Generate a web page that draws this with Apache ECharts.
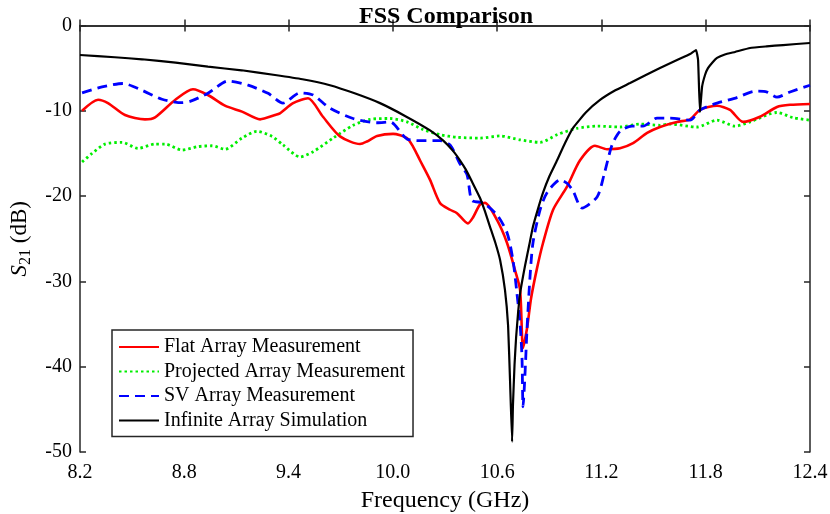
<!DOCTYPE html>
<html>
<head>
<meta charset="utf-8">
<script src="https://cdn.jsdelivr.net/npm/echarts@6/dist/echarts.min.js"></script>
<style>html,body{margin:0;padding:0;background:#fff;}#c{width:830px;height:514px;}</style>
</head>
<body>
<div id="c"></div>
<script>
// ---- Data (frequency in GHz, S21 in dB) ----
var xTickValues = [8.2, 8.8, 9.4, 10.0, 10.6, 11.2, 11.8, 12.4];
var yTickValues = [0, -10, -20, -30, -40, -50];

var flatFreq = [8.212,8.304,8.361,8.459,8.574,8.632,8.747,8.850,8.936,9.034,9.132,9.236,9.322,9.350,9.426,9.512,9.598,9.696,9.811,9.851,9.909,10.001,10.081,10.116,10.156,10.214,10.271,10.329,10.369,10.432,10.461,10.501,10.530,10.599,10.657,10.703,10.732,10.749,10.772,10.795,10.829,10.864,10.922,11.002,11.077,11.163,11.232,11.307,11.382,11.463,11.537,11.635,11.710,11.767,11.865,11.940,12.015,12.112,12.210,12.285,12.400];
var flatS21 = [-10.0,-8.7,-9.1,-10.5,-11.0,-10.76,-8.73,-7.48,-8.15,-9.4,-10.1,-11.0,-10.5,-10.3,-9.1,-8.53,-10.7,-13.0,-13.9,-13.6,-12.95,-12.7,-13.2,-14.2,-15.8,-18.1,-20.8,-21.6,-22.0,-23.2,-22.5,-21.0,-20.8,-22.8,-25.5,-28.7,-31.0,-37.8,-35.5,-32.0,-28.5,-25.5,-21.6,-18.9,-15.8,-14.1,-14.5,-14.4,-13.8,-12.6,-11.9,-11.3,-11.0,-9.9,-9.4,-9.9,-11.3,-10.7,-9.55,-9.3,-9.2];

var projFreq = [8.212,8.269,8.344,8.442,8.534,8.632,8.689,8.787,8.879,8.959,9.034,9.132,9.218,9.305,9.368,9.466,9.541,9.656,9.771,9.869,9.984,10.081,10.174,10.271,10.369,10.501,10.617,10.732,10.847,10.945,11.060,11.175,11.307,11.422,11.537,11.595,11.750,11.865,11.969,12.055,12.210,12.302,12.400];
var projS21 = [-16.0,-15.0,-13.9,-13.7,-14.4,-13.9,-13.9,-14.6,-14.2,-14.1,-14.5,-13.2,-12.4,-13.0,-14.0,-15.4,-14.8,-13.2,-11.7,-11.0,-10.9,-11.3,-12.2,-12.8,-13.1,-13.2,-12.95,-13.4,-13.7,-12.8,-12.05,-11.8,-11.9,-11.55,-11.7,-11.55,-11.9,-11.1,-11.8,-11.3,-10.2,-10.8,-11.1];

var svFreq = [8.212,8.327,8.447,8.557,8.672,8.787,8.833,8.936,9.052,9.167,9.282,9.368,9.466,9.541,9.638,9.771,9.909,9.984,10.081,10.174,10.271,10.329,10.386,10.427,10.455,10.519,10.599,10.657,10.691,10.714,10.732,10.743,10.749,10.760,10.772,10.789,10.806,10.847,10.887,10.962,11.002,11.037,11.088,11.175,11.215,11.261,11.307,11.376,11.439,11.520,11.595,11.710,11.767,11.865,11.980,12.084,12.153,12.210,12.285,12.400];
var svS21 = [-7.9,-7.2,-6.8,-7.6,-8.65,-9.05,-8.9,-7.95,-6.5,-7.0,-7.95,-9.1,-7.9,-8.15,-9.7,-10.9,-11.4,-11.3,-13.3,-13.5,-13.5,-14.0,-16.2,-17.5,-20.5,-20.8,-22.2,-24.3,-27.5,-31.4,-35.0,-38.9,-44.7,-41.0,-35.5,-29.5,-25.5,-21.6,-19.6,-18.1,-18.5,-19.4,-21.4,-20.1,-17.5,-14.0,-12.4,-11.8,-11.8,-10.85,-10.85,-11.1,-9.9,-9.1,-8.45,-7.7,-7.8,-8.4,-7.8,-7.0];

var simFreq = [8.200,8.400,8.557,8.750,8.936,9.130,9.322,9.480,9.638,9.780,9.926,10.070,10.214,10.290,10.346,10.386,10.420,10.455,10.501,10.530,10.559,10.590,10.617,10.645,10.663,10.674,10.686,10.691,10.700,10.709,10.720,10.732,10.761,10.785,10.806,10.835,10.864,10.900,10.945,10.990,11.037,11.110,11.192,11.280,11.365,11.450,11.537,11.635,11.710,11.744,11.756,11.767,11.779,11.796,11.813,11.840,11.865,11.910,11.969,12.055,12.150,12.245,12.400];
var simS21 = [-3.46,-3.72,-3.96,-4.35,-4.83,-5.25,-5.80,-6.30,-7.00,-7.95,-9.10,-10.6,-12.3,-13.5,-14.7,-15.8,-16.9,-18.3,-20.2,-21.8,-23.6,-25.5,-27.5,-31.0,-35.2,-41.5,-48.8,-44.5,-39.8,-36.6,-33.8,-31.4,-28.1,-25.7,-23.6,-21.5,-19.6,-17.7,-15.8,-13.8,-12.0,-10.2,-8.73,-7.6,-6.74,-5.85,-4.98,-4.04,-3.34,-2.87,-4.04,-10.14,-7.2,-5.8,-5.0,-4.3,-3.8,-3.4,-3.1,-2.64,-2.45,-2.29,-2.05];

function pairs(xs, ys) { return xs.map(function (x, i) { return [x, ys[i]]; }); }

var FONT = 'Liberation Serif';
var AX = '#262626';

var chart = echarts.init(document.getElementById('c'), null, { renderer: 'canvas' });
chart.setOption({
  animation: false,
  backgroundColor: '#fff',
  title: {
    text: 'FSS Comparison',
    left: 441, top: 0, textAlign: 'center',
    textStyle: { fontFamily: FONT, fontSize: 24, fontWeight: 'bold', color: '#000' }
  },
  grid: { left: 80, right: 20, top: 25.5, bottom: 62, containLabel: false, outerBoundsMode: 'none' },
  legend: {
    orient: 'vertical', left: 112, top: 330,
    backgroundColor: '#fff', borderColor: AX, borderWidth: 1.5,
    padding: [7, 8, 6, 6], itemWidth: 40, itemHeight: 18, itemGap: 4.5,
    itemStyle: { opacity: 0 },
    textStyle: { fontFamily: FONT, fontSize: 20, color: '#000', lineHeight: 18 },
    data: ['Flat Array Measurement', 'Projected Array Measurement', 'SV Array Measurement', 'Infinite Array Simulation']
  },
  xAxis: [{
    type: 'value', min: 8.2, max: 12.4, interval: 0.6,
    name: 'Frequency (GHz)', nameLocation: 'middle', nameGap: 37,
    nameTextStyle: { fontFamily: FONT, fontSize: 24, color: '#000' },
    axisLine: { show: true, lineStyle: { color: AX, width: 1.5 } },
    axisTick: { show: true, inside: true, length: 6, lineStyle: { color: AX, width: 1.5 } },
    axisLabel: { fontFamily: FONT, fontSize: 20, color: '#000', margin: 11, formatter: function (v) { return v.toFixed(1); } },
    splitLine: { show: false }
  }, {
    type: 'value', min: 8.2, max: 12.4, interval: 0.6, position: 'top',
    axisLine: { show: true, lineStyle: { color: AX, width: 1.5 } },
    axisTick: { show: true, inside: true, length: 6, lineStyle: { color: AX, width: 1.5 } },
    axisLabel: { show: false }, splitLine: { show: false }
  }],
  yAxis: [{
    type: 'value', min: -50, max: 0, interval: 10,
    name: '{it|S}{sub|21}{n| (dB)}', nameLocation: 'middle', nameGap: 46,
    nameTextStyle: {
      fontFamily: FONT, fontSize: 23, color: '#000',
      rich: {
        it: { fontFamily: FONT, fontSize: 23, fontStyle: 'italic', color: '#000' },
        sub: { fontFamily: FONT, fontSize: 16, color: '#000', padding: [12, 0, 0, 0], verticalAlign: 'bottom' },
        n: { fontFamily: FONT, fontSize: 23, color: '#000' }
      }
    },
    axisLine: { show: true, lineStyle: { color: AX, width: 1.5 } },
    axisTick: { show: true, inside: true, length: 6, lineStyle: { color: AX, width: 1.5 } },
    axisLabel: { fontFamily: FONT, fontSize: 20, color: '#000', margin: 8 },
    splitLine: { show: false }
  }, {
    type: 'value', min: -50, max: 0, interval: 10, position: 'right',
    axisLine: { show: true, lineStyle: { color: AX, width: 1.5 } },
    axisTick: { show: true, inside: true, length: 6, lineStyle: { color: AX, width: 1.5 } },
    axisLabel: { show: false }, splitLine: { show: false }
  }],
  series: [{
    name: 'Flat Array Measurement', type: 'line', showSymbol: false, symbol: 'none',
    smooth: 0.25, data: pairs(flatFreq, flatS21),
    lineStyle: { color: '#ff0000', width: 2.6 }, itemStyle: { color: '#ff0000' }, z: 3
  }, {
    name: 'Projected Array Measurement', type: 'line', showSymbol: false, symbol: 'none',
    smooth: 0.25, data: pairs(projFreq, projS21),
    lineStyle: { color: '#00ee00', width: 2.8, type: [2.5, 3] }, itemStyle: { color: '#00ee00' }, z: 2
  }, {
    name: 'SV Array Measurement', type: 'line', showSymbol: false, symbol: 'none',
    smooth: 0.25, data: pairs(svFreq, svS21),
    lineStyle: { color: '#0000ff', width: 2.8, type: [10, 6] }, itemStyle: { color: '#0000ff' }, z: 4
  }, {
    name: 'Infinite Array Simulation', type: 'line', showSymbol: false, symbol: 'none',
    smooth: 0.12, data: pairs(simFreq, simS21),
    lineStyle: { color: '#000000', width: 2.2 }, itemStyle: { color: '#000' }, z: 5
  }]
});
</script>
</body>
</html>
